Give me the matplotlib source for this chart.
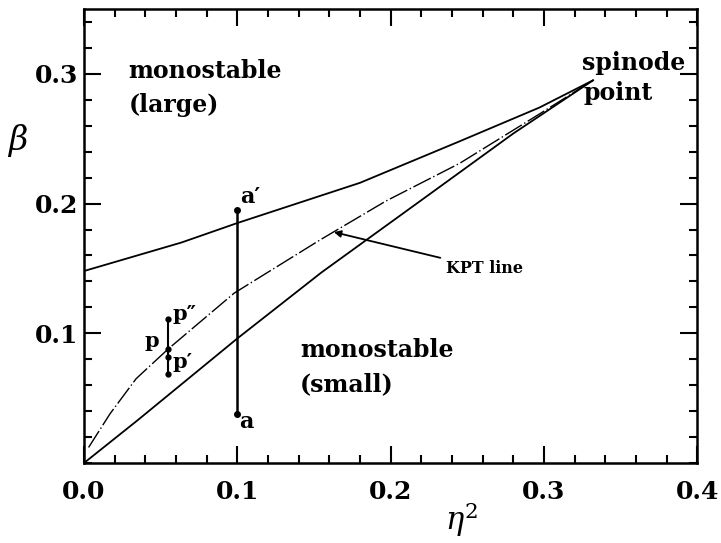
# phase diagram in the (eta^2, beta) plane with KPT line and spinode point
import matplotlib
matplotlib.use('Agg')
import matplotlib.pyplot as plt
from matplotlib.ticker import MultipleLocator

plt.rcParams['mathtext.fontset'] = 'dejavuserif'

# ------ data ------
upper_eta2 = [0.0, 0.0636, 0.1, 0.18, 0.245, 0.297, 0.332]
upper_beta = [0.148, 0.170, 0.185, 0.216, 0.248, 0.274, 0.295]

kpt_eta2 = [0.003, 0.017, 0.034, 0.055, 0.098, 0.154, 0.197, 0.245, 0.297, 0.332]
kpt_beta = [0.012, 0.038, 0.065, 0.088, 0.131, 0.172, 0.202, 0.231, 0.269, 0.295]

lower_eta2 = [0.0, 0.035, 0.1, 0.155, 0.217, 0.28, 0.332]
lower_beta = [0.0, 0.033, 0.096, 0.147, 0.200, 0.254, 0.295]

# vertical segments a-a' and p'-p''
seg_a_eta2 = 0.1
seg_a_beta = [0.038, 0.195]
seg_p_eta2 = 0.055
seg_p_beta = [0.069, 0.082, 0.088, 0.111]

font = dict(family='DejaVu Serif', weight='bold')

fig = plt.figure(figsize=(7.21, 5.43), dpi=100)
ax = fig.add_axes([0.1165, 0.1473, 0.8505, 0.8361])

ax.plot(upper_eta2, upper_beta, color='black', lw=1.3)
ax.plot(lower_eta2, lower_beta, color='black', lw=1.3)
ax.plot(kpt_eta2, kpt_beta, color='black', lw=1.0, linestyle=(0, (14, 2, 1, 2)))

ax.plot([seg_a_eta2, seg_a_eta2], seg_a_beta, color='black', lw=1.8,
        marker='o', markersize=4)
ax.plot([seg_p_eta2] * len(seg_p_beta), seg_p_beta, color='black', lw=1.5,
        marker='o', markersize=3.5)

# labels
ax.text(0.029, 0.302, 'monostable', fontsize=17, va='center', ha='left', **font)
ax.text(0.029, 0.276, '(large)', fontsize=17, va='center', ha='left', **font)
ax.text(0.141, 0.087, 'monostable', fontsize=17, va='center', ha='left', **font)
ax.text(0.141, 0.061, '(small)', fontsize=17, va='center', ha='left', **font)
ax.text(0.325, 0.308, 'spinode', fontsize=17, va='center', ha='left', **font)
ax.text(0.326, 0.285, 'point', fontsize=17, va='center', ha='left', **font)

ax.text(0.102, 0.205, 'a\u2032', fontsize=16, va='center', ha='left', **font)
ax.text(0.101, 0.032, 'a', fontsize=16, va='center', ha='left', **font)
ax.text(0.058, 0.115, 'p\u2033', fontsize=15, va='center', ha='left', **font)
ax.text(0.049, 0.094, 'p', fontsize=15, va='center', ha='right', **font)
ax.text(0.058, 0.078, 'p\u2032', fontsize=15, va='center', ha='left', **font)

ax.annotate('KPT line', xy=(0.163, 0.178), xytext=(0.236, 0.150),
            fontsize=11.5, va='center', ha='left', **font,
            arrowprops=dict(arrowstyle='-|>', color='black', lw=1.3,
                            mutation_scale=10, shrinkA=2, shrinkB=0))

# axes
ax.set_xlim(0, 0.4)
ax.set_ylim(0, 0.35)
ax.xaxis.set_minor_locator(MultipleLocator(0.02))
ax.yaxis.set_minor_locator(MultipleLocator(0.02))
ax.set_xticks([0.0, 0.1, 0.2, 0.3, 0.4])
ax.set_xticklabels(['0.0', '0.1', '0.2', '0.3', '0.4'])
ax.set_yticks([0.1, 0.2, 0.3])
ax.set_yticklabels(['0.1', '0.2', '0.3'])
ax.tick_params(which='both', direction='in', top=True, right=True, width=1.5)
ax.tick_params(which='major', length=12, labelsize=18, pad=4)
ax.tick_params(which='minor', length=6)
ax.tick_params(axis='x', which='major', pad=12)
for lab in ax.get_xticklabels() + ax.get_yticklabels():
    lab.set_family('DejaVu Serif')
    lab.set_weight('bold')
for sp in ax.spines.values():
    sp.set_linewidth(1.8)

ax.text(0.615, -0.125, r'$\eta^{2}$', transform=ax.transAxes, fontsize=22,
        ha='center', va='center')
ax.text(-0.109, 0.71, r'$\beta$', transform=ax.transAxes, fontsize=24,
        ha='center', va='center')

plt.savefig('out.png', dpi=100)
